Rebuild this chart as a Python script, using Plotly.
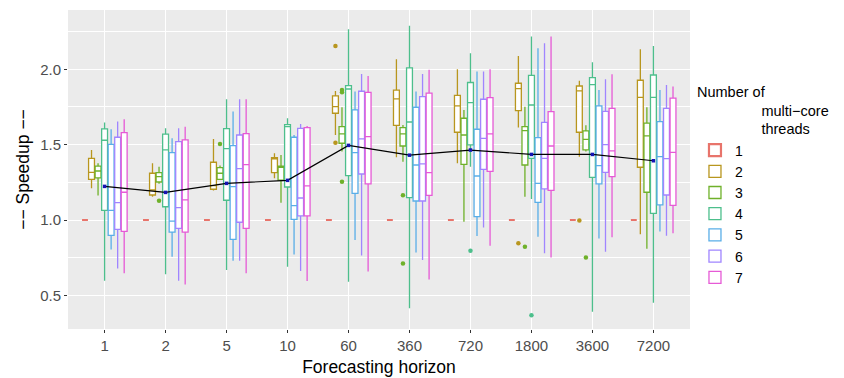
import plotly.graph_objects as go

horizons = ["1", "2", "5", "10", "60", "360", "720", "1800", "3600", "7200"]
threads = ["1", "2", "3", "4", "5", "6", "7"]
colors = ["#E8746B", "#B8961E", "#6FB12A", "#4DBF8C", "#5AAEE8", "#A085FF", "#E65AD6"]

# thread 1 (single core baseline)
t1_value = [1.0] * 10

# per-thread box statistics (threads 2..7)
lower = {
    "2": [1.210, 1.155, 1.195, 1.277, 1.564, 1.416, 1.376, 1.613, 1.420, 0.905],
    "3": [1.162, 1.240, 1.265, 1.115, 1.454, 1.387, 0.989, 1.155, 1.455, 0.810],
    "4": [0.597, 0.640, 0.668, 0.690, 0.591, 0.414, 1.354, 1.140, 0.392, 0.451],
    "5": [0.805, 0.757, 0.730, 0.772, 0.867, 0.785, 0.894, 0.889, 0.878, 0.923],
    "6": [0.679, 0.597, 0.730, 0.662, 0.765, 0.735, 0.951, 0.779, 0.790, 0.896],
    "7": [0.646, 0.573, 0.646, 0.595, 0.659, 0.606, 0.830, 0.752, 0.885, 0.912],
}
q1 = {
    "2": [1.270, 1.166, 1.204, 1.314, 1.708, 1.628, 1.582, 1.726, 1.582, 1.350],
    "3": [1.279, 1.252, 1.270, 1.265, 1.509, 1.491, 1.369, 1.365, 1.465, 1.184],
    "4": [1.064, 1.088, 1.131, 1.219, 1.294, 1.148, 1.498, 1.409, 1.283, 1.044],
    "5": [0.898, 0.920, 0.872, 1.004, 1.177, 1.126, 1.022, 1.117, 1.239, 1.100],
    "6": [0.938, 0.945, 0.985, 1.027, 1.305, 1.126, 1.336, 1.206, 1.316, 1.166],
    "7": [0.925, 0.920, 0.945, 1.027, 1.239, 1.164, 1.323, 1.197, 1.288, 1.097],
}
median = {
    "2": [1.316, 1.199, 1.228, 1.405, 1.752, 1.803, 1.757, 1.872, 1.856, 1.814],
    "3": [1.325, 1.288, 1.310, 1.350, 1.571, 1.571, 1.564, 1.593, 1.535, 1.558],
    "4": [1.529, 1.465, 1.473, 1.619, 1.869, 1.650, 1.779, 1.763, 1.898, 1.814],
    "5": [1.064, 0.993, 1.221, 1.095, 1.447, 1.365, 1.292, 1.243, 1.361, 1.420],
    "6": [1.115, 1.082, 1.341, 1.146, 1.538, 1.372, 1.542, 1.409, 1.500, 1.407],
    "7": [1.184, 1.133, 1.367, 1.226, 1.553, 1.314, 1.571, 1.491, 1.458, 1.449],
}
q3 = {
    "2": [1.409, 1.310, 1.383, 1.414, 1.823, 1.861, 1.827, 1.907, 1.889, 1.927],
    "3": [1.358, 1.314, 1.347, 1.358, 1.619, 1.613, 1.675, 1.619, 1.591, 1.642],
    "4": [1.604, 1.569, 1.606, 1.633, 1.892, 2.009, 1.912, 1.960, 1.945, 1.962],
    "5": [1.502, 1.447, 1.493, 1.549, 1.730, 1.748, 1.602, 1.546, 1.757, 1.653],
    "6": [1.549, 1.520, 1.564, 1.608, 1.854, 1.819, 1.801, 1.648, 1.721, 1.741],
    "7": [1.580, 1.531, 1.573, 1.613, 1.847, 1.841, 1.812, 1.719, 1.741, 1.808],
}
upper = {
    "2": [1.465, 1.376, 1.538, 1.442, 1.856, 2.066, 2.000, 2.088, 1.923, 2.133],
    "3": [1.376, 1.354, 1.361, 1.431, 1.748, 1.630, 1.730, 1.752, 1.628, 1.748],
    "4": [1.646, 1.608, 1.801, 1.675, 2.265, 2.288, 2.106, 2.217, 2.046, 2.155],
    "5": [1.602, 1.542, 1.719, 1.564, 1.852, 1.852, 1.985, 2.139, 1.863, 1.863],
    "6": [1.653, 1.608, 1.801, 1.637, 1.969, 1.969, 1.985, 2.173, 1.934, 1.896],
    "7": [1.668, 1.619, 1.801, 1.624, 1.956, 1.996, 2.000, 2.217, 1.967, 1.885],
}
# outliers: thread -> (horizon, value)
outliers = {
    "2": [("60", 2.155), ("60", 1.513), ("1800", 0.845), ("3600", 0.996)],
    "3": [("2", 1.128), ("5", 1.504), ("60", 1.863), ("60", 1.847), ("60", 1.254),
          ("360", 1.164), ("360", 0.712), ("1800", 0.823), ("3600", 0.752)],
    "4": [("720", 0.796), ("1800", 0.369)],
}
# overall summary line
line_values = [1.223, 1.183, 1.243, 1.263, 1.495, 1.430, 1.464, 1.435, 1.435, 1.393]

n_thr = len(threads)
dodge = 0.75
slot = dodge / n_thr
box_w = slot * 0.9
hidx = {h: i for i, h in enumerate(horizons)}


def pos(h_index, t_index):
    return h_index + (t_index - (n_thr - 1) / 2) * slot


fig = go.Figure()
for ti, t in enumerate(threads):
    xs = [pos(i, ti) for i in range(len(horizons))]
    if t == "1":
        st = dict(q1=t1_value, median=t1_value, q3=t1_value,
                  lowerfence=t1_value, upperfence=t1_value)
        lw = 2.2
    else:
        st = dict(q1=q1[t], median=median[t], q3=q3[t],
                  lowerfence=lower[t], upperfence=upper[t])
        lw = 1.3
    fig.add_trace(go.Box(
        x=xs, name=t, width=box_w, boxpoints=False,
        fillcolor="white", line=dict(color=colors[ti], width=lw),
        whiskerwidth=0, legendgroup=t, **st))

for ti, t in enumerate(threads):
    if t in outliers:
        fig.add_trace(go.Scatter(
            x=[pos(hidx[h], ti) for h, _ in outliers[t]],
            y=[v for _, v in outliers[t]],
            mode="markers", marker=dict(color=colors[ti], size=4.5),
            showlegend=False, legendgroup=t, hoverinfo="skip"))

fig.add_trace(go.Scatter(
    x=list(range(len(horizons))), y=line_values, mode="lines+markers",
    line=dict(color="black", width=1.2),
    marker=dict(color="#1414B4", size=3.5, symbol="square"),
    showlegend=False))

font_fam = "Liberation Sans, Arial, sans-serif"
nb = "\u00a0" * 16
fig.update_layout(
    width=844, height=378,
    margin=dict(l=68, r=154, t=10, b=49, autoexpand=False),
    paper_bgcolor="white", plot_bgcolor="#EBEBEB",
    font=dict(family=font_fam, color="black"),
    boxmode="overlay",
    showlegend=True,
    legend=dict(
        x=1.008, xanchor="left", y=0.45, yanchor="middle",
        title=dict(text="Number of<br>" + nb + "multi\u2212core<br>" + nb + "threads",
                   font=dict(size=14.5, color="black")),
        font=dict(size=14, color="black"),
        bgcolor="rgba(0,0,0,0)", tracegroupgap=0, itemwidth=30,
    ),
    xaxis=dict(
        range=[-0.6, 9.6], tickmode="array", tickvals=list(range(len(horizons))),
        ticktext=horizons, showgrid=True, gridcolor="white", gridwidth=1.2,
        zeroline=False, ticks="outside", ticklen=3, tickcolor="#333333",
        tickfont=dict(size=15, color="#4D4D4D"), automargin=False,
        title=dict(text="Forecasting horizon", font=dict(size=17.5, color="black"), standoff=7),
    ),
    yaxis=dict(
        range=[0.277, 2.393], tickmode="array", tickvals=[0.5, 1.0, 1.5, 2.0],
        ticktext=["0.5", "1.0", "1.5", "2.0"],
        showgrid=True, gridcolor="white", gridwidth=1.2, zeroline=False,
        ticks="outside", ticklen=3, tickcolor="#333333",
        tickfont=dict(size=15, color="#4D4D4D"), automargin=False,
        minor=dict(tickmode="array", tickvals=[0.75, 1.25, 1.75, 2.25],
                   showgrid=True, gridcolor="white", gridwidth=0.6, ticks=""),
        title=dict(text="\u2212\u2212 Speedup \u2212\u2212", font=dict(size=17.5, color="black"), standoff=6),
    ),
)

fig.write_html("out.html", config={"displayModeBar": False},
               post_script="document.body.style.margin='0px';")
